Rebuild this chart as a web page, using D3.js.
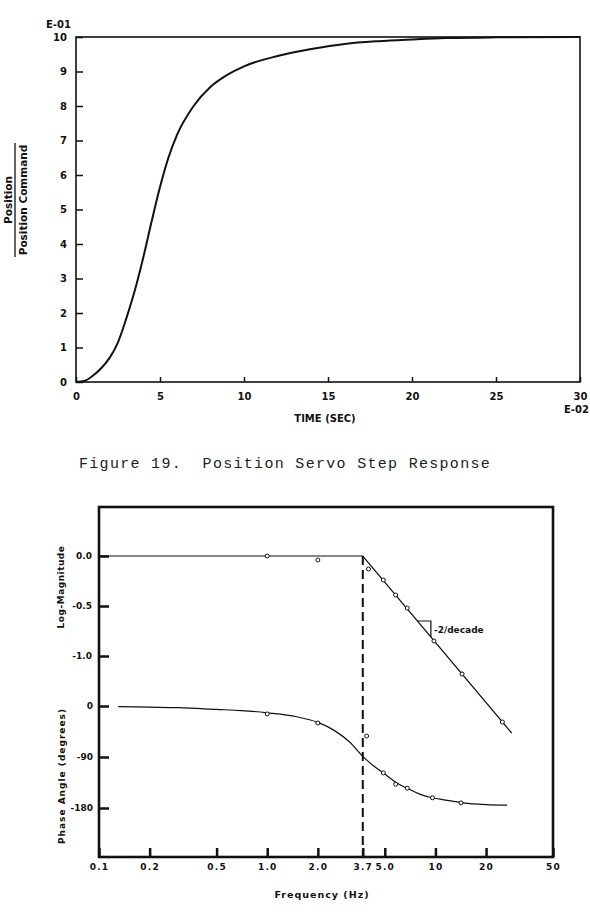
<!DOCTYPE html>
<html lang="en">
<head>
<meta charset="UTF-8">
<title>Position Servo Step Response</title>
<script src="https://d3js.org/d3.v7.min.js"></script>
<style>
  body { margin: 0; background: #fff; }
  svg { display: block; }
  .lbl { font-family: "DejaVu Sans", sans-serif; font-weight: bold; fill: #111; }
  .caption { font-family: "Liberation Mono", monospace; font-size: 15px; fill: #222; }
</style>
</head>
<body>
<svg width="590" height="923"></svg>
<script>
  // ---- Figure 19 data: step response (position / command, E-01) vs time (E-02 sec)
  const stepTime = [0, 0.5, 1, 1.5, 2, 2.5, 3, 3.5, 4, 4.5, 5, 5.5, 6, 7, 8, 9, 10, 12, 14, 16, 18, 20, 22, 25, 30];
  const stepValue = [0, 0.03, 0.18, 0.4, 0.7, 1.15, 1.85, 2.65, 3.6, 4.65, 5.65, 6.5, 7.15, 8.0, 8.55, 8.9, 9.15, 9.45, 9.65, 9.8, 9.88, 9.93, 9.97, 9.99, 10.0];
  const stepXTicks = [0, 5, 10, 15, 20, 25, 30];
  const stepYTicks = [0, 1, 2, 3, 4, 5, 6, 7, 8, 9, 10];

  // ---- Frequency response data
  const freqTicks = [0.1, 0.2, 0.5, 1.0, 2.0, 3.7, 5.0, 10, 20, 50];
  const freqTickLabels = ["0.1", "0.2", "0.5", "1.0", "2.0", "3.7", "5.0", "10", "20", "50"];
  const magTicks = [0, -0.5, -1.0];
  const magTickLabels = ["0.0", "-0.5", "-1.0"];
  const phaseTicks = [0, -90, -180];
  const phaseTickLabels = ["0", "-90", "-180"];

  // asymptote of log-magnitude (flat to 3.7 Hz, then -2/decade)
  const magLineFreq = [0.1, 3.7, 28.4];
  const magLineValue = [0, 0, -1.77];
  // measured log-magnitude points
  const magPointFreq = [1.0, 2.0, 4.0, 4.9, 5.8, 6.8, 9.8, 14.4, 25];
  const magPointValue = [0, -0.04, -0.13, -0.24, -0.39, -0.52, -0.85, -1.18, -1.66];
  // phase curve
  const phaseCurveFreq = [0.13, 0.2, 0.3, 0.5, 0.7, 1.0, 1.5, 2.0, 2.5, 3.1, 3.7, 4.3, 5.0, 5.9, 7.0, 8.0, 9.3, 11.5, 14.6, 20, 26.7];
  const phaseCurveValue = [-1, -2, -3, -6, -8, -12, -19, -29, -43, -64, -89, -106, -120, -136, -147, -155, -161, -166, -171, -174, -175];
  // measured phase points
  const phasePointFreq = [1.0, 2.0, 3.9, 4.9, 5.8, 6.8, 9.6, 14.2];
  const phasePointValue = [-14, -30, -53, -118, -138, -145, -162, -171];
  // slope triangle
  const slopeFreq = [7.8, 9.4];
  const slopeMag = [-0.65, -0.81];
  const cornerFreq = 3.7;

  const svg = d3.select("svg");

  function styleAxis(g, fontSize, tickWidth) {
    g.select(".domain").remove();
    g.selectAll(".tick line").attr("stroke", "#111").attr("stroke-width", tickWidth);
    g.selectAll(".tick text")
      .attr("font-family", "DejaVu Sans, sans-serif")
      .attr("font-weight", "bold")
      .attr("font-size", fontSize)
      .attr("fill", "#111");
  }

  // ================= Top chart =================
  const xT = d3.scaleLinear().domain([0, 30]).range([76, 580]);
  const yT = d3.scaleLinear().domain([0, 10]).range([382, 37]);
  const topG = svg.append("g");

  const axTL = topG.append("g").attr("transform", `translate(${xT(0)},0)`)
    .call(d3.axisLeft(yT).tickValues(stepYTicks).tickSize(-7).tickPadding(9));
  styleAxis(axTL, 10, 1.5);

  const axTB = topG.append("g").attr("transform", `translate(0,${yT(0)})`)
    .call(d3.axisBottom(xT).tickValues(stepXTicks).tickSize(-5).tickPadding(11));
  styleAxis(axTB, 10, 1.5);

  topG.append("rect")
    .attr("x", xT(0)).attr("y", yT(10))
    .attr("width", xT(30) - xT(0)).attr("height", yT(0) - yT(10))
    .attr("fill", "none").attr("stroke", "#111").attr("stroke-width", 1.6);

  const stepData = stepTime.map((t, i) => [t, stepValue[i]]);
  topG.append("path")
    .datum(stepData)
    .attr("fill", "none").attr("stroke", "#111").attr("stroke-width", 2)
    .attr("d", d3.line().x(d => xT(d[0])).y(d => yT(d[1])).curve(d3.curveMonotoneX));

  topG.append("text").attr("class", "lbl").attr("font-size", 10)
    .attr("x", 46).attr("y", 28).text("E-01");
  topG.append("text").attr("class", "lbl").attr("font-size", 10)
    .attr("x", 564).attr("y", 413).text("E-02");
  topG.append("text").attr("class", "lbl").attr("font-size", 10)
    .attr("x", 325).attr("y", 422).attr("text-anchor", "middle").text("TIME (SEC)");

  const yl = topG.append("g").attr("transform", "translate(0,200) rotate(-90)");
  yl.append("text").attr("class", "lbl").attr("font-size", 10.5)
    .attr("x", 0).attr("y", 12).attr("text-anchor", "middle").text("Position");
  yl.append("line").attr("x1", -57).attr("x2", 57).attr("y1", 15).attr("y2", 15)
    .attr("stroke", "#111").attr("stroke-width", 1.3);
  yl.append("text").attr("class", "lbl").attr("font-size", 10.5)
    .attr("x", 0).attr("y", 27).attr("text-anchor", "middle").text("Position Command");

  svg.append("text").attr("class", "caption")
    .attr("x", 79).attr("y", 468)
    .attr("letter-spacing", 1.3)
    .attr("xml:space", "preserve")
    .text("Figure 19.  Position Servo Step Response");

  // ================= Bottom chart =================
  const xB = d3.scaleLog().domain([0.1, 50]).range([99, 553]);
  const yMag = d3.scaleLinear().domain([0, -1]).range([556, 656]);
  const yPh = d3.scaleLinear().domain([0, -180]).range([706, 808]);
  const frameTop = 507, frameBottom = 857;
  const botG = svg.append("g");

  const axMag = botG.append("g").attr("transform", `translate(${xB(0.1)},0)`)
    .call(d3.axisLeft(yMag).tickValues(magTicks).tickFormat((d, i) => magTickLabels[i]).tickSize(-10).tickPadding(7));
  styleAxis(axMag, 9, 2.5);
  const axPh = botG.append("g").attr("transform", `translate(${xB(0.1)},0)`)
    .call(d3.axisLeft(yPh).tickValues(phaseTicks).tickFormat((d, i) => phaseTickLabels[i]).tickSize(-10).tickPadding(6));
  styleAxis(axPh, 9, 2.5);
  const axF = botG.append("g").attr("transform", `translate(0,${frameBottom})`)
    .call(d3.axisBottom(xB).tickValues(freqTicks).tickFormat((d, i) => freqTickLabels[i]).tickSize(-9).tickPadding(7));
  styleAxis(axF, 9, 2.5);
  axF.selectAll(".tick text").attr("letter-spacing", 1.2);

  botG.append("rect")
    .attr("x", xB(0.1)).attr("y", frameTop)
    .attr("width", xB(50) - xB(0.1)).attr("height", frameBottom - frameTop)
    .attr("fill", "none").attr("stroke", "#111").attr("stroke-width", 2.6);

  // dashed corner frequency line
  botG.append("line")
    .attr("x1", xB(cornerFreq)).attr("x2", xB(cornerFreq))
    .attr("y1", yMag(0)).attr("y2", frameBottom)
    .attr("stroke", "#111").attr("stroke-width", 2).attr("stroke-dasharray", "9,5");

  // magnitude asymptote
  const magLine = magLineFreq.map((f, i) => [f, magLineValue[i]]);
  botG.append("path").datum(magLine)
    .attr("fill", "none").attr("stroke", "#111").attr("stroke-width", 1.2)
    .attr("d", d3.line().x(d => xB(d[0])).y(d => yMag(d[1])));

  // phase curve
  const phLine = phaseCurveFreq.map((f, i) => [f, phaseCurveValue[i]]);
  botG.append("path").datum(phLine)
    .attr("fill", "none").attr("stroke", "#111").attr("stroke-width", 1.2)
    .attr("d", d3.line().x(d => xB(d[0])).y(d => yPh(d[1])).curve(d3.curveMonotoneX));

  // points
  botG.append("g").selectAll("circle")
    .data(magPointFreq.map((f, i) => [f, magPointValue[i]]))
    .join("circle")
    .attr("cx", d => xB(d[0])).attr("cy", d => yMag(d[1])).attr("r", 2)
    .attr("fill", "#fff").attr("stroke", "#111").attr("stroke-width", 1);
  botG.append("g").selectAll("circle")
    .data(phasePointFreq.map((f, i) => [f, phasePointValue[i]]))
    .join("circle")
    .attr("cx", d => xB(d[0])).attr("cy", d => yPh(d[1])).attr("r", 2)
    .attr("fill", "#fff").attr("stroke", "#111").attr("stroke-width", 1);

  // slope triangle and note
  botG.append("path")
    .attr("d", `M${xB(slopeFreq[0])},${yMag(slopeMag[0])}H${xB(slopeFreq[1])}V${yMag(slopeMag[1])}`)
    .attr("fill", "none").attr("stroke", "#111").attr("stroke-width", 1.2);
  botG.append("text").attr("class", "lbl").attr("font-size", 9)
    .attr("x", xB(slopeFreq[1]) + 3).attr("y", yMag(slopeMag[0]) + 12)
    .text("-2/decade");

  // axis titles
  botG.append("text").attr("class", "lbl").attr("font-size", 9.5)
    .attr("letter-spacing", 1)
    .attr("x", 322).attr("y", 898).attr("text-anchor", "middle").text("Frequency (Hz)");
  botG.append("text").attr("class", "lbl").attr("font-size", 9)
    .attr("letter-spacing", 0.5)
    .attr("transform", "translate(64,587) rotate(-90)").attr("text-anchor", "middle").text("Log-Magnitude");
  botG.append("text").attr("class", "lbl").attr("font-size", 9)
    .attr("letter-spacing", 1)
    .attr("transform", "translate(65,776) rotate(-90)").attr("text-anchor", "middle").text("Phase Angle (degrees)");
</script>
</body>
</html>
